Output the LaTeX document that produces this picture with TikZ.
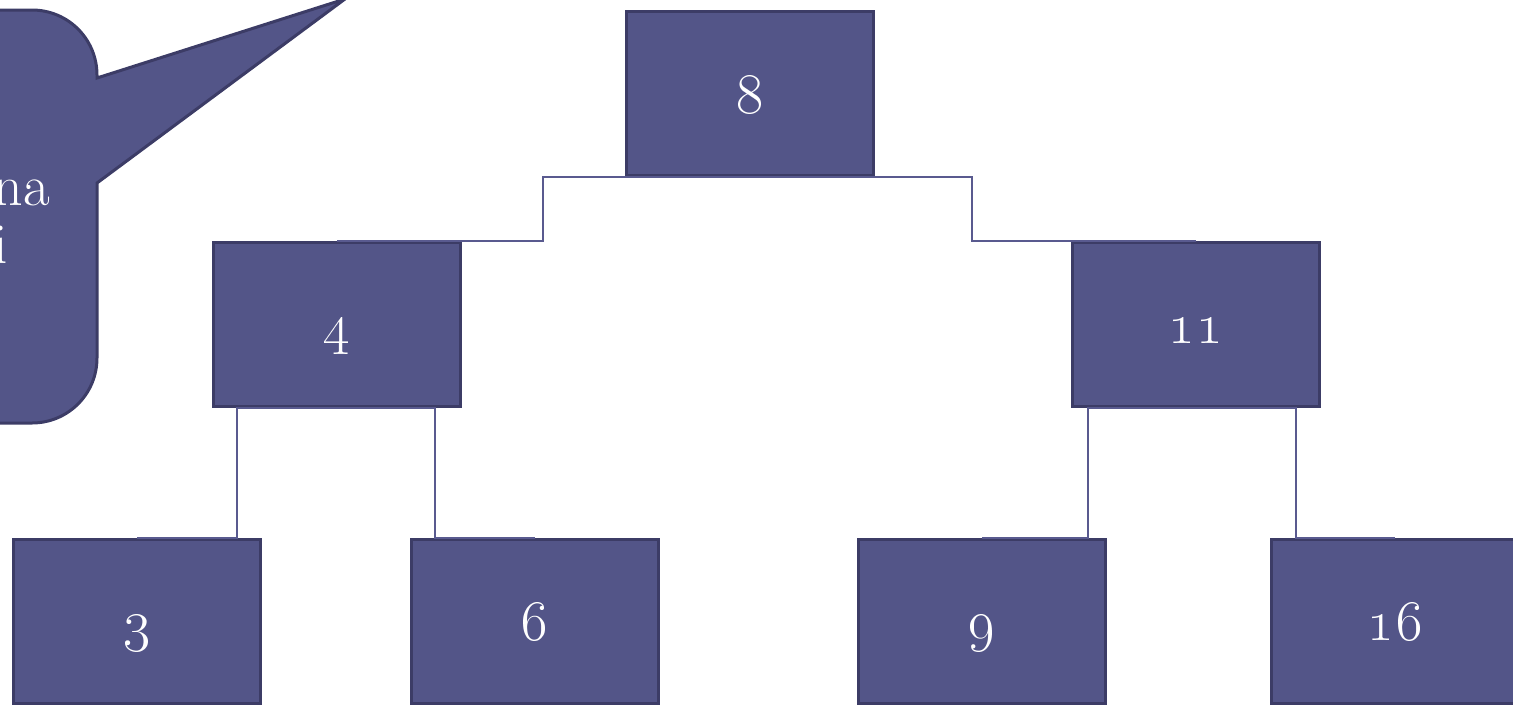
\RequirePackage{fix-cm}
\documentclass[tikz,border=0pt]{standalone}
\begin{document}
\definecolor{boxfill}{HTML}{535588}
\definecolor{boxedge}{HTML}{3C3C66}
\definecolor{wire}{HTML}{595A8F}
\begin{tikzpicture}[x=1pt,y=-1pt,
  tbox/.style={draw=boxedge,fill=boxfill,line width=3pt,minimum width=247pt,minimum height=164pt,inner sep=0pt},
  lbl/.style={text=white,anchor=base,font=\fontsize{58}{60}\selectfont},
  wireline/.style={draw=wire,line width=2pt},
  callout/.style={draw=boxedge,fill=boxfill,line width=3pt,line join=miter}]
\useasboundingbox (0,0) rectangle (1513,705);
\clip (0,0) rectangle (1513,705);
% callout
\draw[callout] (97,78) -- (345,-1) -- (97,183) -- (97,358) .. controls (97,394) and (68,423) .. (32,423)
  -- (-100,423) -- (-100,10) -- (32,10) .. controls (68,10) and (97,39) .. (97,75) -- cycle;
\node[text=white,anchor=base east,font=\fontsize{58}{60}\selectfont,inner sep=0pt] (c1) at (50,205) {na};
\node[text=white,anchor=base east,font=\fontsize{58}{60}\selectfont,inner sep=0pt] (c2) at (8,263) {i};
% boxes
\node[tbox] (n8) at (750,93.5) {};
\node[tbox] (n4) at (336.5,324.5) {};
\node[tbox] (n11) at (1196,324.5) {};
\node[tbox] (n3) at (137,621.5) {};
\node[tbox] (n6) at (534.5,621.5) {};
\node[tbox] (n9) at (981.5,621.5) {};
\node[tbox] (n16) at (1395,621.5) {};
% labels
\node[lbl] (t8) at (750,113) {\oldstylenums{8}};
\node[lbl] (t4) at (336.5,343) {\oldstylenums{4}};
\node[lbl] (t11) at (1196,343) {\oldstylenums{11}};
\node[lbl] (t3) at (137,640) {\oldstylenums{3}};
\node[lbl] (t6) at (534.5,640) {\oldstylenums{6}};
\node[lbl] (t9) at (981.5,640) {\oldstylenums{9}};
\node[lbl] (t16) at (1395,640) {\oldstylenums{16}};
% connectors
\draw[wireline] (n8.south) -| (543,241) -- (n4.north);
\draw[wireline] (n8.south) -| (972,241) -- (n11.north);
\draw[wireline] (n4.south) -| (237,538) -- (n3.north);
\draw[wireline] (n4.south) -| (435,538) -- (n6.north);
\draw[wireline] (n11.south) -| (1088,538) -- (n9.north);
\draw[wireline] (n11.south) -| (1296,538) -- (n16.north);
\end{tikzpicture}
\end{document}
